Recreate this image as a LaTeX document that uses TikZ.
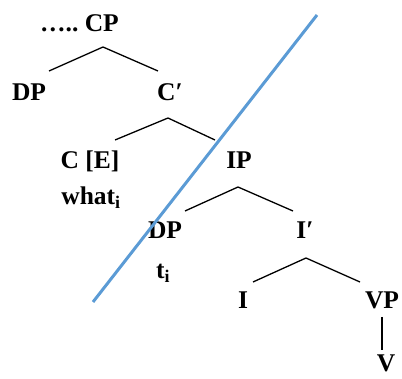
\documentclass[tikz,border=0pt]{standalone}
\usepackage{fontspec}
\setmainfont{Liberation Serif}
\begin{document}
\begin{tikzpicture}[x=1pt,y=-1pt,
  lab/.style={anchor=base,inner sep=0pt,font=\fontsize{25.5}{30}\bfseries\selectfont},
  br/.style={line width=1.3pt,black},
  cut/.style={line width=3pt,color={rgb,255:red,91;green,155;blue,213}}]
\useasboundingbox (0,0) rectangle (402,379);
% labels
\node[lab] (cp) at (79.5,32) {…..\ CP};
\node[lab] (dp1) at (29,100.5) {DP};
\node[lab] (cbar) at (170,100.5) {C\char"2032};
\node[lab] (c) at (90,169) {C [E]};
\node[lab] (ip) at (239,169) {IP};
\node[lab] (what) at (91,205) {what\textsubscript{i}};
\node[lab] (dp2) at (165,239) {DP};
\node[lab] (ibar) at (305,239) {I\char"2032};
\node[lab] (t) at (163,279) {t\textsubscript{i}};
\node[lab] (i) at (243,309) {I};
\node[lab] (vp) at (382,309) {VP};
\node[lab] (v) at (386,372) {V};
% branch points
\coordinate (cpT) at (103,47);  \coordinate (cpL) at (49,71);  \coordinate (cpR) at (158,71);
\coordinate (cbT) at (168,118); \coordinate (cbL) at (115,140); \coordinate (cbR) at (215,140);
\coordinate (ipT) at (238,187); \coordinate (ipL) at (185,211); \coordinate (ipR) at (293,211);
\coordinate (ibT) at (306,258); \coordinate (ibL) at (253,282); \coordinate (ibR) at (360,282);
\coordinate (vpT) at (382,317); \coordinate (vpB) at (382,350);
\draw[br] (cpL) -- (cpT) -- (cpR);
\draw[br] (cbL) -- (cbT) -- (cbR);
\draw[br] (ipL) -- (ipT) -- (ipR);
\draw[br] (ibL) -- (ibT) -- (ibR);
\draw[br] (vpT) -- (vpB);
% cut line
\coordinate (cutA) at (93,302); \coordinate (cutB) at (317,15);
\draw[cut] (cutA) -- (cutB);
\end{tikzpicture}
\end{document}
